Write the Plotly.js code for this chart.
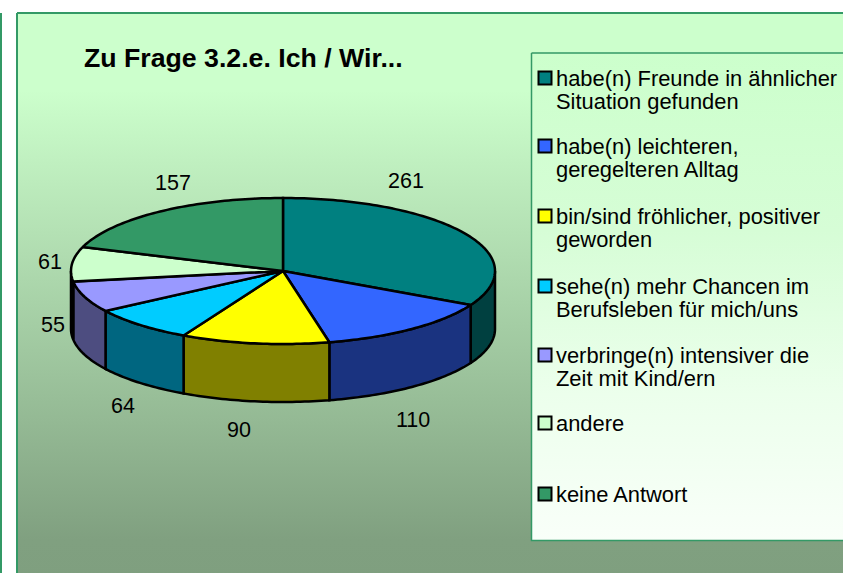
<!DOCTYPE html>
<html><head><meta charset="utf-8">
<script src="https://cdn.plot.ly/plotly-3.0.1.min.js"></script>
<style>html,body{margin:0;padding:0;background:#fff;overflow:hidden}#c{width:843px;height:573px}</style>
</head><body><div id="c"></div>
<script>
const titleText = "Zu Frage 3.2.e. Ich / Wir...";
const values = [261, 110, 90, 64, 55, 61, 157];
const topColors = ["#008080", "#3366FF", "#FFFF00", "#00CCFF", "#9999FF", "#CCFFCC", "#339966"];
const wallColors = ["#004040", "#1A3380", "#808000", "#006680", "#4D4D80", "#668066", "#1A4D33"];
const legendLines = [
  ["habe(n) Freunde in ähnlicher", "Situation gefunden"],
  ["habe(n) leichteren,", "geregelteren Alltag"],
  ["bin/sind fröhlicher, positiver", "geworden"],
  ["sehe(n) mehr Chancen im", "Berufsleben für mich/uns"],
  ["verbringe(n) intensiver die", "Zeit mit Kind/ern"],
  ["andere"],
  ["keine Antwort"]
];
const legendY = [78, 146, 216, 286, 355, 423, 494];
const labelX = [406, 413, 239, 123, 53, 50, 173];
const labelY = [181, 420, 430, 406, 325, 262, 183];

const cx = 283, cy = 271, rx = 212, ry = 73, depth = 58;
const FONT = "Liberation Sans, Arial, sans-serif";
const total = values.reduce((a, b) => a + b, 0);
const pt = (t, dy) => [cx + rx * Math.sin(t), cy - ry * Math.cos(t) + (dy || 0)];
function arc(a, b, dy) {
  const n = Math.max(2, Math.ceil(Math.abs(b - a) / 0.02)), out = [];
  for (let i = 0; i <= n; i++) out.push(pt(a + (b - a) * i / n, dy));
  return out;
}
const poly = (pts, fill, line, lw) => ({
  type: "scatter", mode: "lines", x: pts.map(p => p[0]), y: pts.map(p => p[1]),
  fill: "toself", fillcolor: fill, line: {color: line, width: lw, simplify: false},
  hoverinfo: "skip", showlegend: false
});
const box = (x0, x1, y0, y1, stops, line, lw) => ({
  type: "scatter", mode: "lines", x: [x0, x1, x1, x0, x0], y: [y0, y0, y1, y1, y0],
  fill: "toself", fillgradient: {type: "vertical", colorscale: stops},
  line: {color: line, width: lw}, hoverinfo: "skip", showlegend: false
});

const traces = [];
// frame and legend panels
traces.push(box(1, 1, 13, 573, [[0, "#339966"], [1, "#339966"]], "#339966", 2));
traces.push(box(17, 850, 13, 580, [[0, "#7F9F7F"], [0.071, "#80A080"], [0.864, "#CCFFCC"], [1, "#CCFFCC"]], "#339966", 2));
traces.push(box(531.5, 850, 53, 540.5, [[0, "#F9FFF9"], [0.3, "#ECFFEC"], [0.636, "#D6FDD6"], [1, "#CCFFCC"]], "#339966", 1.5));

// slices
const angles = [];
let acc = 0;
values.forEach(v => { const a = acc / total * 2 * Math.PI; acc += v; angles.push([a, acc / total * 2 * Math.PI]); });
// walls, only the front half (90° to 270°)
angles.forEach(([a, b], i) => {
  const lo = Math.max(a, Math.PI / 2), hi = Math.min(b, 1.5 * Math.PI);
  if (hi <= lo) return;
  const pts = arc(lo, hi, 0).concat(arc(hi, lo, depth));
  pts.push(pts[0]);
  traces.push(poly(pts, wallColors[i], "#000", 2.5));
});
// top faces
angles.forEach(([a, b], i) => {
  const pts = [[cx, cy]].concat(arc(a, b, 0));
  pts.push([cx, cy]);
  traces.push(poly(pts, topColors[i], "#000", 2.5));
});
// legend keys
traces.push({
  type: "scatter", mode: "markers", x: legendY.map(() => 545), y: legendY,
  marker: {symbol: "square", size: 13, color: topColors, line: {color: "#000", width: 2}},
  hoverinfo: "skip", showlegend: false
});

const ann = [];
const txt = (x, y, text, size, anchor, bold) => ({
  xref: "x", yref: "y", x, y, text: bold ? "<b>" + text + "</b>" : text, showarrow: false,
  xanchor: anchor, yanchor: "middle", font: {family: FONT, size, color: "#000"},
  borderpad: 0, borderwidth: 0
});
legendLines.forEach((lines, i) => lines.forEach((s, j) =>
  ann.push(txt(556, legendY[i] + j * 23.5, s, 21.9, "left"))));
values.forEach((v, i) => ann.push(txt(labelX[i], labelY[i], String(v), 21.5, "center")));
ann.push(txt(84, 58, titleText, 26.7, "left", true));

Plotly.newPlot("c", traces, {
  width: 843, height: 573, margin: {l: 0, r: 0, t: 0, b: 0},
  paper_bgcolor: "#fff", plot_bgcolor: "rgba(0,0,0,0)", showlegend: false, hovermode: false,
  xaxis: {range: [0, 843], visible: false, fixedrange: true},
  yaxis: {range: [573, 0], visible: false, fixedrange: true},
  annotations: ann
}, {displayModeBar: false, staticPlot: true});
</script></body></html>
